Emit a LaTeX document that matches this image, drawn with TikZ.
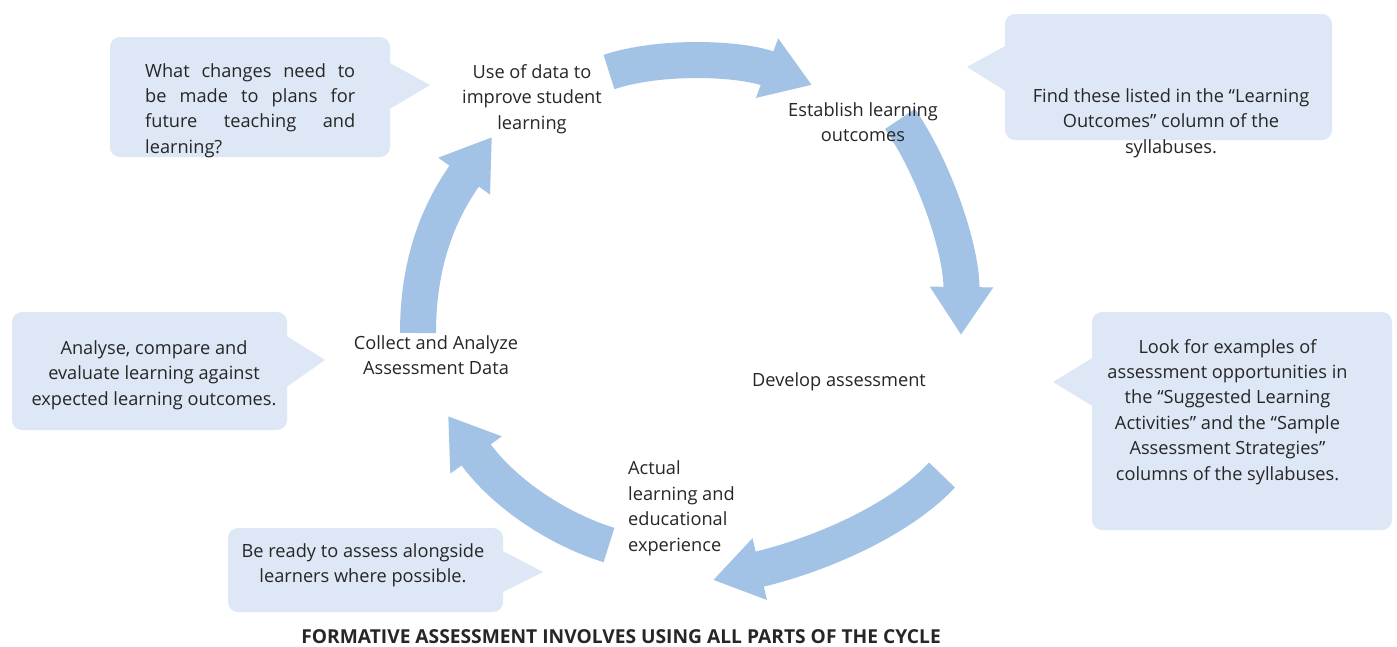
\documentclass[tikz,border=0pt]{standalone}
\usepackage{fontspec}
\setmainfont{Open Sans}
\usetikzlibrary{arrows.meta}
\definecolor{arrowblue}{RGB}{163,195,230}
\definecolor{boxblue}{RGB}{221,231,246}
\definecolor{txt}{RGB}{38,38,38}
\begin{document}
\begin{tikzpicture}[x=1pt,y=-1pt,
  lbl/.style={font=\fontsize{18.2}{25.4}\selectfont, text=txt, inner sep=0pt, align=center, anchor=base},
  callbox/.style={fill=boxblue, rounded corners=10pt, inner sep=0pt, draw=none},
  cyc/.style={draw=arrowblue, line width=36pt, -{Triangle[width=60pt,length=48pt]}}
]
\useasboundingbox[fill=white] (0,0) rectangle (1397,646);

% callout boxes
\node[callbox, minimum width=280pt, minimum height=120pt] (c1) at (250,97) {};
\fill[boxblue] (388,62) -- (430,85) -- (388,110) -- cycle;
\node[callbox, minimum width=327pt, minimum height=126pt] (c2) at (1168.5,77) {};
\fill[boxblue] (1007,45) -- (967,67) -- (1007,92) -- cycle;
\node[callbox, minimum width=275pt, minimum height=118pt] (c3) at (149.5,371) {};
\fill[boxblue] (285,335) -- (325,360) -- (285,388) -- cycle;
\node[callbox, minimum width=300pt, minimum height=218pt] (c4) at (1242,421) {};
\fill[boxblue] (1094,357) -- (1053,382) -- (1094,407) -- cycle;
\node[callbox, minimum width=275pt, minimum height=84pt] (c5) at (365.5,570) {};
\fill[boxblue] (501,550) -- (543,572) -- (501,593) -- cycle;

% cycle arrows (drawn below the labels)
\coordinate (a1s) at (609,72);  \coordinate (a1e) at (812,85);
\coordinate (a2s) at (900,119); \coordinate (a2e) at (961,335);
\coordinate (a3s) at (942,475); \coordinate (a3e) at (713,580);
\coordinate (a4s) at (609,545); \coordinate (a4e) at (448,416);
\coordinate (a5s) at (418,333); \coordinate (a5e) at (492,137);
\draw[cyc] (a1s) .. controls (660,55) and (740,58) .. (a1e);
\draw[cyc] (a2s) .. controls (935,170) and (962,250) .. (a2e);
\draw[cyc] (a3s) .. controls (900,520) and (820,555) .. (a3e);
\draw[cyc] (a4s) .. controls (560,530) and (505,495) .. (a4e);
\draw[cyc] (a5s) .. controls (418,260) and (440,210) .. (a5e);

% callout texts (anchor = baseline of the last line)
\node[lbl, text width=210pt, align=justify, anchor=base west] (t1) at (145,77)
  {What changes need to\linebreak be made to plans for\linebreak future teaching and\linebreak learning?};
\node[lbl] (t2) at (1171,153) {Find these listed in the “Learning\\Outcomes” column of the\\syllabuses.};
\node[lbl] (t3) at (154,405) {Analyse, compare and\\evaluate learning against\\expected learning outcomes.};
\node[lbl] (t4) at (1227.5,480) {Look for examples of\\assessment opportunities in\\the “Suggested Learning\\Activities” and the “Sample\\Assessment Strategies”\\columns of the syllabuses.};
\node[lbl] (t5) at (363,582.5) {Be ready to assess alongside\\learners where possible.};

% cycle labels
\node[lbl] (use) at (532,129) {Use of data to\\improve student\\learning};
\node[lbl] (est) at (863,141.5) {Establish learning\\outcomes};
\node[lbl] (dev) at (839,386) {Develop assessment};
\node[lbl] (col) at (436,374.5) {Collect and Analyze\\Assessment Data};
\node[lbl, align=left, anchor=base west] (act) at (628,551) {Actual\\learning and\\educational\\experience};

% title
\node[font=\bfseries\fontsize{19.2}{22}\selectfont, text=txt, inner sep=0pt, anchor=base] (title) at (621,643)
  {FORMATIVE ASSESSMENT INVOLVES USING ALL PARTS OF THE CYCLE};
\end{tikzpicture}
\end{document}
